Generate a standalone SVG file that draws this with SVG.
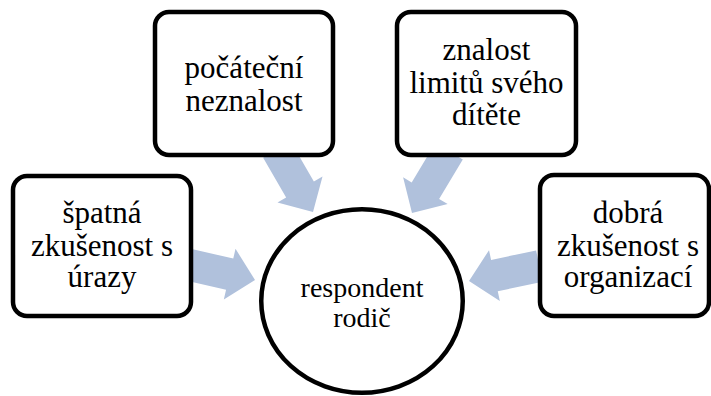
<svg xmlns="http://www.w3.org/2000/svg" width="711" height="396" viewBox="0 0 711 396">
  <style>
    .arrow { fill: #B0C1DC; stroke: none; }
    .box { fill: #FFFFFF; stroke: #000000; stroke-width: 4.5; }
    text { font-family: 'Liberation Serif', 'DejaVu Serif', serif; fill: #000000; text-anchor: middle; }
    .lbl { font-size: 31px; }
    .lblc { font-size: 28px; }
  </style>
  <defs>
    <polygon id="arr" points="0,0 -26,-26 -26,-16 -72,-16 -72,16 -26,16 -26,26"/>
  </defs>
  <rect width="711" height="396" fill="#FFFFFF"/>
  <g id="connectors">
    <use href="#arr" class="arrow" transform="translate(255,280) rotate(13)"/>
    <use href="#arr" class="arrow" transform="translate(313,212) rotate(60)"/>
    <use href="#arr" class="arrow" transform="translate(412,213) rotate(121)"/>
    <use href="#arr" class="arrow" transform="translate(469,281) rotate(168)"/>
  </g>
  <g id="node-spatna">
    <rect class="box" x="13" y="176" width="178" height="140" rx="14"/>
    <text class="lbl" font-family="Liberation Serif, serif" x="102" y="223">špatná</text>
    <text class="lbl" font-family="Liberation Serif, serif" x="102" y="256">zkušenost s</text>
    <text class="lbl" font-family="Liberation Serif, serif" x="102" y="287">úrazy</text>
  </g>
  <g id="node-pocatecni">
    <rect class="box" x="155" y="12" width="178" height="143" rx="14"/>
    <text class="lbl" font-family="Liberation Serif, serif" x="244" y="78">počáteční</text>
    <text class="lbl" font-family="Liberation Serif, serif" x="244" y="111">neznalost</text>
  </g>
  <g id="node-znalost">
    <rect class="box" x="397" y="12" width="179" height="143" rx="14"/>
    <text class="lbl" font-family="Liberation Serif, serif" x="486.5" y="60">znalost</text>
    <text class="lbl" font-family="Liberation Serif, serif" x="486.5" y="93">limitů svého</text>
    <text class="lbl" font-family="Liberation Serif, serif" x="486.5" y="125">dítěte</text>
  </g>
  <g id="node-dobra">
    <rect class="box" x="540" y="175" width="169" height="141" rx="14"/>
    <text class="lbl" font-family="Liberation Serif, serif" x="628" y="223">dobrá</text>
    <text class="lbl" font-family="Liberation Serif, serif" x="628" y="256">zkušenost s</text>
    <text class="lbl" font-family="Liberation Serif, serif" x="628" y="287">organizací</text>
  </g>
  <g id="node-respondent">
    <ellipse class="box" cx="362" cy="301" rx="100.75" ry="91.75"/>
    <text class="lblc" font-family="Liberation Serif, serif" x="362" y="297">respondent</text>
    <text class="lblc" font-family="Liberation Serif, serif" x="362" y="327">rodič</text>
  </g>
</svg>
